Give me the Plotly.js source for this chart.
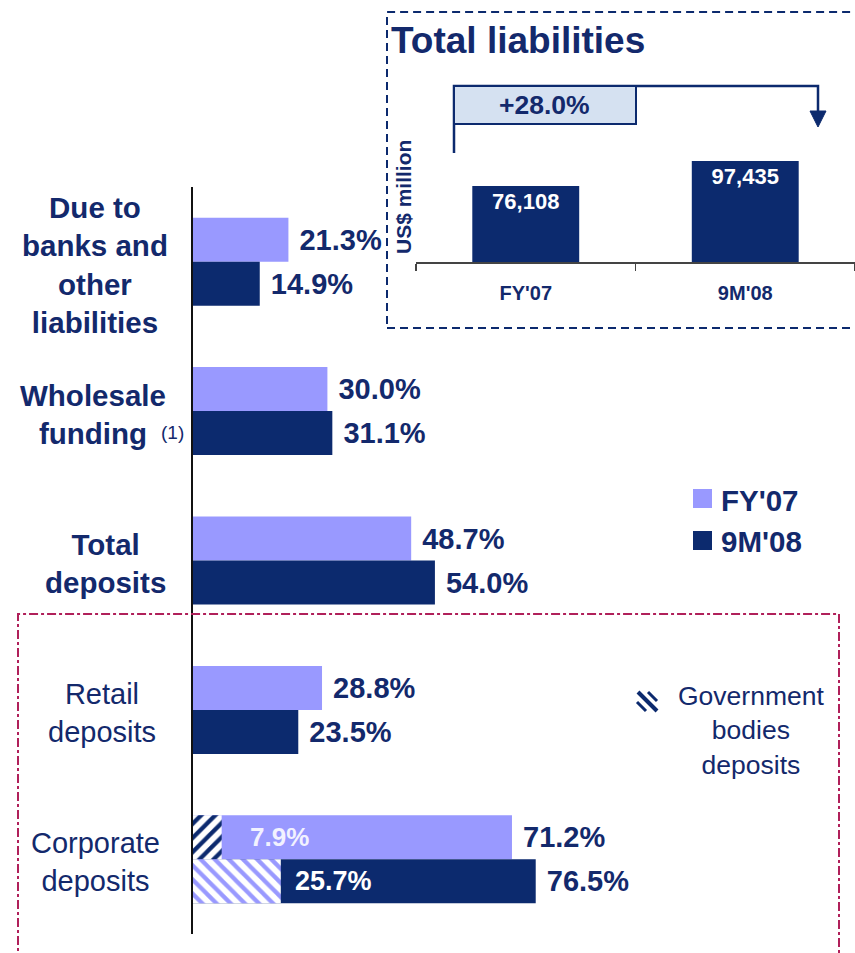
<!DOCTYPE html>
<html>
<head>
<meta charset="utf-8">
<script src="https://cdn.plot.ly/plotly-3.0.1.min.js"></script>
<style>html,body{margin:0;padding:0;background:#fff;}#chart{width:855px;height:953px;}</style>
</head>
<body>
<div id="chart"></div>
<script>
// ---------- data ----------
const categories = ['Due to banks and other liabilities', 'Wholesale funding', 'Total deposits', 'Retail deposits', 'Corporate deposits'];
const categoryLabels = ['Due to<br>banks and<br>other<br>liabilities', 'Wholesale<br>funding', 'Total<br>deposits', 'Retail<br>deposits', 'Corporate<br>deposits'];
const seriesNames = ["FY'07", "9M'08"];
const shareFY07 = [21.3, 30.0, 48.7, 28.8, 71.2];
const share9M08 = [14.9, 31.1, 54.0, 23.5, 76.5];
const govCategory = ['Corporate deposits'];
const govFY07 = [6.4];          // government bodies part of corporate deposits (bar length, % of liabilities)
const gov9M08 = [19.6];
const govShareLabels = ['7.9%', '25.7%'];   // share of corporate deposits
const govLegendText = 'Government<br>bodies<br>deposits';
const footnoteMark = '(1)';

const periods = ["FY'07", "9M'08"];
const totalLiabilities = [76108, 97435];
const growthLabel = '+28.0%';
const insetTitle = 'Total liabilities';
const insetUnit = 'US$ million';

// ---------- styles ----------
const W = 855, H = 953;
const X = v => v / W;
const Y = v => 1 - v / H;
const NAVY = '#0c2a6e';
const TEXT = '#13296c';
const LIGHT = '#9999ff';
const FONT = 'Liberation Sans, Arial, Helvetica, sans-serif';
const pxPerPct = 4.48;
const barW = 0.2945;

const traces = [
  {
    type: 'bar', orientation: 'h', name: seriesNames[0],
    y: categories, x: shareFY07, width: barW, offset: -barW,
    marker: {color: LIGHT, line: {width: 0}},
    texttemplate: '\u00a0%{x:.1f}%', textposition: 'outside', constraintext: 'none', cliponaxis: false,
    textfont: {family: FONT, size: 29, weight: 'bold', color: TEXT},
    xaxis: 'x', yaxis: 'y', hoverinfo: 'skip'
  },
  {
    type: 'bar', orientation: 'h', name: seriesNames[1],
    y: categories, x: share9M08, width: barW, offset: 0,
    marker: {color: NAVY, line: {width: 0}},
    texttemplate: '\u00a0%{x:.1f}%', textposition: 'outside', constraintext: 'none', cliponaxis: false,
    textfont: {family: FONT, size: 29, weight: 'bold', color: TEXT},
    xaxis: 'x', yaxis: 'y', hoverinfo: 'skip'
  },
  {
    type: 'bar', orientation: 'h', name: 'Government bodies deposits ' + seriesNames[0],
    y: govCategory, x: govFY07, width: barW, offset: -barW,
    marker: {color: 'white', line: {width: 0},
      pattern: {shape: '/', fgcolor: NAVY, bgcolor: 'white', size: 10, solidity: 0.42, fillmode: 'replace'}},
    xaxis: 'x', yaxis: 'y', hoverinfo: 'skip'
  },
  {
    type: 'bar', orientation: 'h', name: 'Government bodies deposits ' + seriesNames[1],
    y: govCategory, x: gov9M08, width: barW, offset: 0,
    marker: {color: 'white', line: {width: 0},
      pattern: {shape: '\\', fgcolor: LIGHT, bgcolor: 'white', size: 10, solidity: 0.42, fillmode: 'replace'}},
    xaxis: 'x', yaxis: 'y', hoverinfo: 'skip'
  },
  {
    type: 'bar', name: insetTitle,
    x: periods, y: totalLiabilities, width: 0.487,
    marker: {color: NAVY, line: {width: 0}},
    texttemplate: '%{y:,}', textposition: 'inside', insidetextanchor: 'end', constraintext: 'none',
    textfont: {family: FONT, size: 22, weight: 'bold', color: 'white'},
    xaxis: 'x2', yaxis: 'y2', hoverinfo: 'skip'
  }
];

// category labels
const labelX = [95, 93, 105, 102, 95];
const annotations = categories.map((c, i) => ({
  xref: 'paper', yref: 'y', x: X(labelX[i]), y: c, xanchor: 'center', yanchor: 'middle', yshift: -3,
  text: categoryLabels[i], showarrow: false, align: 'center',
  font: {family: FONT, size: i < 3 ? 29.5 : 29, weight: i < 3 ? 'bold' : 'normal', color: TEXT}
}));
annotations.push(
  {xref: 'paper', yref: 'paper', x: X(172), y: Y(432), xanchor: 'center', yanchor: 'middle', text: footnoteMark, showarrow: false,
   font: {family: FONT, size: 19, color: TEXT}},
  // shares of government bodies within corporate deposits
  {xref: 'x', yref: 'y', x: (248 - 193) / pxPerPct, y: govCategory[0], yshift: 22, xanchor: 'left', yanchor: 'middle',
   text: govShareLabels[0], showarrow: false, font: {family: FONT, size: 26, weight: 'bold', color: '#f2f2ff'}},
  {xref: 'x', yref: 'y', x: (293 - 193) / pxPerPct, y: govCategory[0], yshift: -22, xanchor: 'left', yanchor: 'middle',
   text: govShareLabels[1], showarrow: false, font: {family: FONT, size: 27, weight: 'bold', color: 'white'}},
  // legend texts
  {xref: 'paper', yref: 'paper', x: X(719), y: Y(500), xanchor: 'left', yanchor: 'middle', text: seriesNames[0],
   showarrow: false, font: {family: FONT, size: 29.5, weight: 'bold', color: TEXT}},
  {xref: 'paper', yref: 'paper', x: X(719), y: Y(541), xanchor: 'left', yanchor: 'middle', text: seriesNames[1],
   showarrow: false, font: {family: FONT, size: 29.5, weight: 'bold', color: TEXT}},
  {xref: 'paper', yref: 'paper', x: X(751), y: Y(730), xanchor: 'center', yanchor: 'middle', text: govLegendText,
   showarrow: false, align: 'center', font: {family: FONT, size: 26.5, color: TEXT}},
  // inset
  {xref: 'paper', yref: 'paper', x: X(544), y: Y(105), xanchor: 'center', yanchor: 'middle', text: growthLabel,
   showarrow: false, font: {family: FONT, size: 26.5, weight: 'bold', color: TEXT}},
  {xref: 'paper', yref: 'paper', x: X(403), y: Y(197), xanchor: 'center', yanchor: 'middle', text: insetUnit,
   textangle: -90, showarrow: false, font: {family: FONT, size: 21, weight: 'bold', color: TEXT}}
);

const shapes = [
  // inset dashed frame
  {type: 'rect', xref: 'paper', yref: 'paper', x0: X(387), x1: 1.01, y0: Y(328), y1: Y(12),
   line: {color: NAVY, width: 2, dash: '8px,5px'}, fillcolor: 'rgba(0,0,0,0)'},
  // deposits dash-dot frame
  {type: 'rect', xref: 'paper', yref: 'paper', x0: X(18), x1: X(839), y0: -0.02, y1: Y(614),
   line: {color: '#b0205a', width: 2, dash: 'dashdot'}, fillcolor: 'rgba(0,0,0,0)'},
  // growth arrow
  {type: 'path', xref: 'paper', yref: 'paper',
   path: `M ${X(454)} ${Y(153)} L ${X(454)} ${Y(86)} L ${X(818)} ${Y(86)} L ${X(818)} ${Y(113)}`,
   line: {color: NAVY, width: 2.5}, fillcolor: 'rgba(0,0,0,0)'},
  {type: 'path', xref: 'paper', yref: 'paper',
   path: `M ${X(810)} ${Y(111)} L ${X(826)} ${Y(111)} L ${X(818)} ${Y(127)} Z`,
   line: {color: NAVY, width: 1}, fillcolor: NAVY},
  {type: 'rect', xref: 'paper', yref: 'paper', x0: X(454), x1: X(636), y0: Y(124), y1: Y(86),
   line: {color: NAVY, width: 2}, fillcolor: '#d5e1f1'},
  // legend swatches
  {type: 'rect', xref: 'paper', yref: 'paper', x0: X(693), x1: X(712), y0: Y(508), y1: Y(489),
   line: {width: 0}, fillcolor: LIGHT},
  {type: 'rect', xref: 'paper', yref: 'paper', x0: X(693), x1: X(712), y0: Y(550), y1: Y(531),
   line: {width: 0}, fillcolor: NAVY},
  // hatched swatch for government bodies
  {type: 'line', xref: 'paper', yref: 'paper', x0: X(638), y0: Y(692), x1: X(657), y1: Y(711), line: {color: NAVY, width: 4}},
  {type: 'line', xref: 'paper', yref: 'paper', x0: X(648), y0: Y(692), x1: X(657), y1: Y(701), line: {color: NAVY, width: 3}},
  {type: 'line', xref: 'paper', yref: 'paper', x0: X(637), y0: Y(702), x1: X(646), y1: Y(711), line: {color: NAVY, width: 3}}
];

const layout = {
  width: W, height: H,
  margin: {l: 0, r: 0, t: 0, b: 0},
  paper_bgcolor: 'white', plot_bgcolor: 'rgba(0,0,0,0)',
  barmode: 'overlay', showlegend: false, hovermode: false,
  font: {family: FONT, color: TEXT},
  title: {text: insetTitle, x: X(391), xanchor: 'left', xref: 'paper', y: Y(40), yanchor: 'middle', yref: 'paper',
          font: {family: FONT, size: 37, weight: 'bold', color: TEXT}},
  xaxis: {domain: [X(193), 1], range: [0, (W - 193) / pxPerPct], anchor: 'y',
          showline: false, showgrid: false, zeroline: false, showticklabels: false, ticks: ''},
  yaxis: {domain: [Y(934), Y(187)], type: 'category', range: [4.5, -0.5], anchor: 'x',
          showline: true, linecolor: '#111', linewidth: 2, showgrid: false, zeroline: false,
          showticklabels: false, ticks: ''},
  xaxis2: {domain: [X(416), 1], anchor: 'y2', type: 'category', range: [-0.5, 1.5],
           showline: true, linecolor: '#444', linewidth: 1.5, showgrid: false, zeroline: false,
           ticks: 'outside', tickson: 'boundaries', ticklen: 7, tickwidth: 1.5, tickcolor: '#444',
           ticklabelstandoff: 12,
           tickfont: {family: FONT, size: 20, weight: 'bold', color: TEXT}},
  yaxis2: {domain: [Y(262), Y(60)], anchor: 'x2', range: [11300, 183600], visible: false,
           showgrid: false, zeroline: false},
  annotations: annotations,
  shapes: shapes
};

Plotly.newPlot('chart', traces, layout, {staticPlot: true, displayModeBar: false});
</script>
</body>
</html>
